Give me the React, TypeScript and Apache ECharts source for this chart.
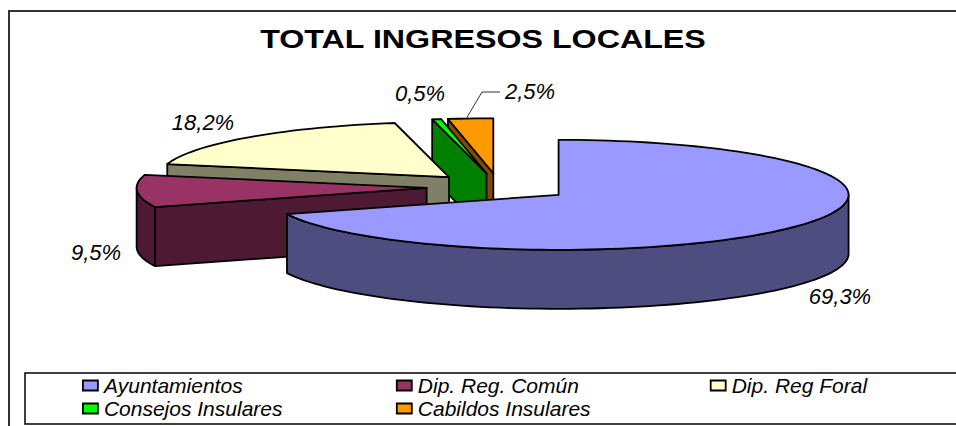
import React, { useEffect, useRef } from "react";
import * as echarts from "echarts";

const chartTitle = "TOTAL INGRESOS LOCALES";
const categories = ["Ayuntamientos", "Dip. Reg. Común", "Dip. Reg Foral", "Consejos Insulares", "Cabildos Insulares"];
const shares = [69.3, 9.5, 18.2, 0.5, 2.5];
const valueLabels = ["69,3%", "9,5%", "18,2%", "0,5%", "2,5%"];
const topColors = ["#9999FF", "#993366", "#FFFFCC", "#00FF00", "#FF9900"];
const wallColors = ["#4D4D80", "#4D1933", "#808066", "#008000", "#804D00"];

// Layout of the projected pie
const CX = 499;
const CY = 187;
const RX = 290;
const RY = 55;
const DEPTH = 59;
const EXPLODE = 0.25;
const LABEL_FONT = 'italic 22px "Liberation Sans", Arial, sans-serif';
const labelAnchors: [number, number][] = [[840, 296], [96, 252], [203, 122], [420, 93], [530, 91]];

const rad = (d: number) => (d * Math.PI) / 180;

function Chart() {
  const ref = useRef<HTMLDivElement>(null);
  useEffect(() => {
    const chart = echarts.init(ref.current!, undefined, { renderer: "svg" });
    const total = shares.reduce((a, b) => a + b, 0);
    const stroke = { stroke: "#000", lineWidth: 1.8, lineJoin: "round" };

    const makeRender = (idx: number) => (_params: any, api: any) => {
      const value = api.value(0);
      const before = shares.slice(0, idx).reduce((a, b) => a + b, 0);
      const start = (before / total) * 360;
      const end = start + (value / total) * 360;
      const mid = (start + end) / 2;
      const ax = CX + EXPLODE * RX * Math.sin(rad(mid));
      const ay = CY - EXPLODE * RY * Math.cos(rad(mid));
      const rim = (a: number, drop = 0): [number, number] => [
        ax + RX * Math.sin(rad(a)),
        ay - RY * Math.cos(rad(a)) + drop,
      ];
      const arc = (a0: number, a1: number, drop = 0) => {
        const n = Math.max(2, Math.ceil(Math.abs(a1 - a0) / 2));
        const pts: [number, number][] = [];
        for (let i = 0; i <= n; i++) pts.push(rim(a0 + ((a1 - a0) * i) / n, drop));
        return pts;
      };
      const wallStyle = { fill: wallColors[idx], ...stroke };
      const children: any[] = [];
      const cutFace = (a: number) =>
        children.push({
          type: "polygon",
          shape: { points: [[ax, ay], rim(a), rim(a, DEPTH), [ax, ay + DEPTH]] },
          style: wallStyle,
        });
      if (Math.sin(rad(start)) < -1e-6) cutFace(start);
      if (Math.sin(rad(end)) > 1e-6) cutFace(end);
      const r0 = Math.max(start, 90);
      const r1 = Math.min(end, 270);
      if (r1 > r0) {
        children.push({
          type: "polygon",
          shape: { points: [...arc(r0, r1), ...arc(r1, r0, DEPTH)] },
          style: wallStyle,
        });
      }
      children.push({
        type: "polygon",
        shape: { points: [[ax, ay], ...arc(start, end)] },
        style: { fill: topColors[idx], ...stroke },
      });
      children.push({
        type: "text",
        style: {
          text: valueLabels[idx],
          x: labelAnchors[idx][0],
          y: labelAnchors[idx][1],
          align: "center",
          verticalAlign: "middle",
          font: LABEL_FONT,
          fill: "#000",
        },
      });
      if (idx === 4) {
        children.push({
          type: "polyline",
          shape: { points: [[466, 119], [482, 92], [500, 92]] },
          style: { stroke: "#333", lineWidth: 1, fill: "none" },
        });
      }
      return { type: "group", children };
    };

    const order = categories.map((_, i) => i).reverse();
    chart.setOption({
      animation: false,
      backgroundColor: "#fff",
      legend: {
        data: categories,
        left: 82,
        top: 375,
        padding: 0,
        width: 1000,
        itemWidth: 15,
        itemHeight: 10,
        itemGap: 2,
        selectedMode: false,
        icon: "rect",
        itemStyle: { borderColor: "#000", borderWidth: 1.8 },
        textStyle: {
          fontFamily: '"Liberation Sans", Arial, sans-serif',
          fontStyle: "italic",
          fontSize: 21,
          color: "#000",
          width: 290,
          lineHeight: 20,
          padding: [0, 0, 0, 1],
        },
      },
      graphic: [
        { type: "rect", shape: { x: 9, y: 11, width: 1100, height: 600 }, style: { fill: "none", stroke: "#333", lineWidth: 2 }, silent: true },
        { type: "rect", shape: { x: 25, y: 373, width: 1100, height: 51 }, style: { fill: "none", stroke: "#000", lineWidth: 1.5 }, silent: true },
        {
          type: "text",
          x: 483,
          y: 39,
          scaleX: 1.24,
          silent: true,
          style: {
            text: chartTitle,
            align: "center",
            verticalAlign: "middle",
            font: 'bold 26px "Liberation Sans", Arial, sans-serif',
            fill: "#000",
          },
        },
      ],
      series: order.map((i) => ({
        type: "custom",
        name: categories[i],
        coordinateSystem: "none",
        itemStyle: { color: topColors[i] },
        renderItem: makeRender(i),
        data: [[shares[i]]],
        silent: true,
      })),
    });
    return () => chart.dispose();
  }, []);
  return <div ref={ref} style={{ position: "absolute", left: 0, top: 0, width: 956, height: 426 }} />;
}

export default function App() {
  return <Chart />;
}
